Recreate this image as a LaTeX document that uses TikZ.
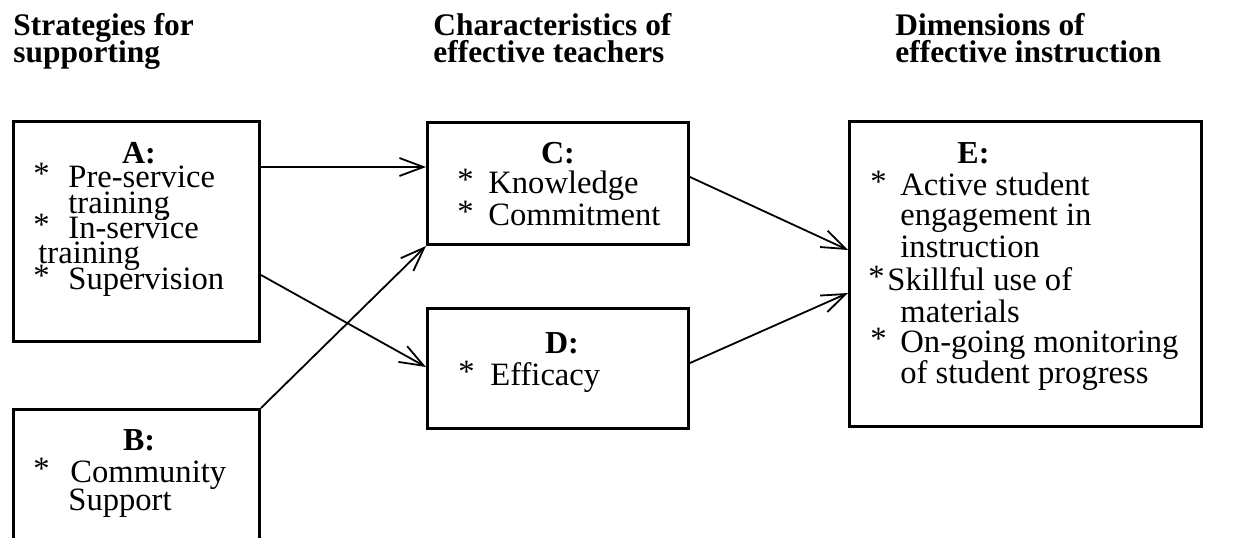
\documentclass[tikz,border=0pt]{standalone}
\usepackage{fontspec}
\setmainfont{Liberation Serif}
\usetikzlibrary{arrows.meta,calc}
\newcommand{\bstar}[1]{\makebox[#1][l]{\raisebox{1.5pt}{*}}}
\begin{document}
\begin{tikzpicture}[x=0.5pt,y=-0.5pt,
  box/.style={draw, line width=1.5pt, inner sep=0pt, anchor=north west},
  hdr/.style={font=\fontsize{15.7}{16}\selectfont\bfseries, anchor=base west, inner sep=0pt},
  txt/.style={font=\fontsize{16.3}{16}\selectfont, anchor=base west, inner sep=0pt},
  ttl/.style={font=\fontsize{16}{16}\selectfont\bfseries, anchor=base, inner sep=0pt},
  ttlw/.style={font=\fontsize{16}{16}\selectfont\bfseries, anchor=base west, inner sep=0pt},
  arr/.style={line width=0.9pt, -{Straight Barb[length=12pt,width=9pt,line width=0.9pt]}}]
\clip (0,0) rectangle (1235,537);
% headers
\node[hdr] (h1a) at (13,35) {Strategies for};
\node[hdr] (h1b) at (13,62) {supporting};
\node[hdr] (h2a) at (433,35) {Characteristics of};
\node[hdr] (h2b) at (433,62) {effective teachers};
\node[hdr] (h3a) at (895,35) {Dimensions of};
\node[hdr] (h3b) at (895,62) {effective instruction};
% boxes
\node[box, minimum width=123pt, minimum height=110pt] (A) at (12,120) {};
\node[box, minimum width=123pt, minimum height=100pt] (B) at (12,408) {};
\node[box, minimum width=130.5pt, minimum height=61pt] (C) at (426,121) {};
\node[box, minimum width=130.5pt, minimum height=60pt] (D) at (426,307) {};
\node[box, minimum width=176pt, minimum height=152.5pt] (E) at (848,120) {};
% A text
\node[ttl] (at) at (139,163) {A:};
\node[txt] (a1) at (33,187) {\bstar{17.5pt}Pre-service};
\node[txt] (a2) at (68,213) {training};
\node[txt] (a3) at (33,238) {\bstar{17.5pt}In-service};
\node[txt] (a4) at (38,263) {training};
\node[txt] (a5) at (33,289) {\bstar{17.5pt}Supervision};
% B text
\node[ttl] (bt) at (139,450) {B:};
\node[txt] (b1) at (33,482) {\bstar{18.5pt}Community};
\node[txt] (b2) at (68,510) {Support};
% C text
\node[ttl] (ct) at (558,163) {C:};
\node[txt] (c1) at (457,193) {\bstar{15.5pt}Knowledge};
\node[txt] (c2) at (457,225) {\bstar{15.5pt}Commitment};
% D text
\node[ttl] (dt) at (562,353) {D:};
\node[txt] (d1) at (458,385) {\bstar{16pt}Efficacy};
% E text
\node[ttlw] (et) at (957,163) {E:};
\node[txt] (e1) at (870,195) {\bstar{15pt}Active student};
\node[txt] (e2) at (900,225) {engagement in};
\node[txt] (e3) at (900,257) {instruction};
\node[txt] (e4) at (868,290) {\bstar{9.5pt}Skillful use of};
\node[txt] (e5) at (900,322) {materials};
\node[txt] (e6) at (870,352) {\bstar{15pt}On-going monitoring};
\node[txt] (e7) at (900,383) {of student progress};
% connectors
\draw[arr] ($(A.north east)+(0,47)$) -- ($(C.north west)+(0,46)$);
\draw[arr] ($(A.north east)+(0,155)$) -- ($(D.north west)+(0,60)$);
\draw[arr] (B.north east) -- (C.south west);
\draw[arr] ($(C.north east)+(0,56)$) -- ($(E.north west)+(0,130)$);
\draw[arr] ($(D.north east)+(0,56)$) -- ($(E.north west)+(0,173)$);
\end{tikzpicture}
\end{document}
